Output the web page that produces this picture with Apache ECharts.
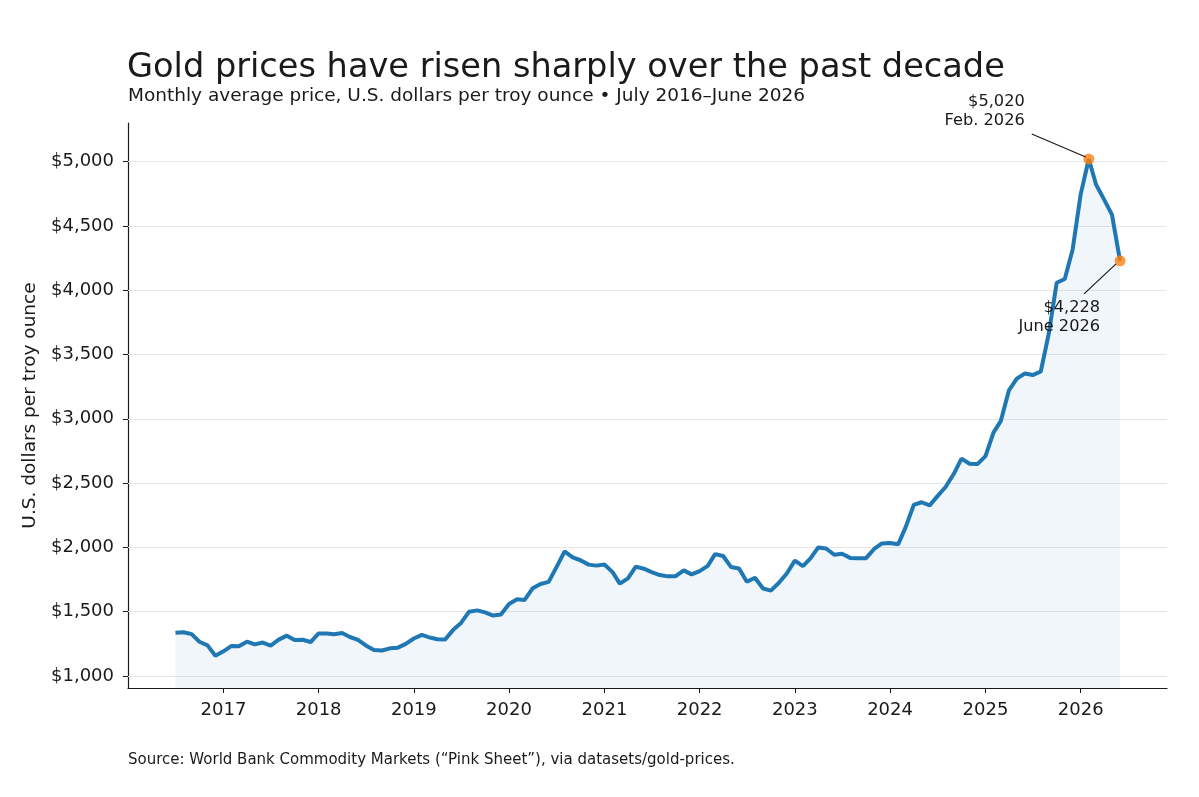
<!DOCTYPE html>
<html>
<head>
<meta charset="utf-8">
<title>Gold prices</title>
<script src="https://cdn.jsdelivr.net/npm/echarts@6.0.0/dist/echarts.min.js"></script>
<style>
  html, body { margin: 0; padding: 0; background: #fff; }
  #chart { width: 1199px; height: 797px; }
</style>
</head>
<body>
<div id="chart"></div>
<script>
  // monthly average gold price, USD per troy ounce
  const startYear = 2016;
  const startMonth = 6; // July (0-based)
  const price2016 = [1336.7, 1340.2, 1326.0, 1266.6, 1238.4, 1157.4];
  const price2017 = [1192.1, 1234.2, 1231.1, 1266.9, 1246.0, 1260.3, 1236.8, 1283.0, 1314.1, 1279.5, 1281.9, 1264.5];
  const price2018 = [1331.3, 1330.7, 1324.7, 1334.8, 1303.5, 1281.6, 1237.7, 1201.7, 1198.4, 1215.4, 1220.7, 1250.4];
  const price2019 = [1291.8, 1320.1, 1300.9, 1285.9, 1283.7, 1359.0, 1412.9, 1500.4, 1510.6, 1494.8, 1470.0, 1479.1];
  const price2020 = [1560.7, 1597.1, 1591.9, 1683.2, 1715.9, 1732.2, 1846.5, 1968.6, 1921.9, 1900.3, 1866.3, 1858.4];
  const price2021 = [1866.9, 1808.2, 1718.2, 1760.0, 1850.3, 1834.6, 1807.8, 1785.3, 1775.1, 1776.8, 1821.5, 1790.3];
  const price2022 = [1816.0, 1856.3, 1948.0, 1933.1, 1848.5, 1836.6, 1732.7, 1764.6, 1680.4, 1664.5, 1725.1, 1797.6];
  const price2023 = [1897.8, 1854.5, 1912.7, 1999.8, 1991.5, 1942.9, 1951.0, 1918.7, 1915.5, 1916.7, 1988.0, 2031.0];
  const price2024 = [2033.7, 2024.0, 2158.0, 2331.2, 2351.3, 2326.7, 2398.6, 2470.1, 2570.5, 2690.2, 2650.9, 2648.0];
  const price2025 = [2709.7, 2894.7, 2984.2, 3222.0, 3312.0, 3352.0, 3340.0, 3368.0, 3665.0, 4058.0, 4087.0, 4315.0];
  const price2026 = [4745.0, 5020.0, 4822.0, 4704.0, 4588.0, 4228.0];

  const yTicks = [1000, 1500, 2000, 2500, 3000, 3500, 4000, 4500, 5000];
  const yearTicks = [2017, 2018, 2019, 2020, 2021, 2022, 2023, 2024, 2025, 2026];

  // highlighted points: [year, month (0-based), value, label line 1, label line 2]
  const peak = [2026, 1, 5020, '$5,020', 'Feb. 2026'];
  const latest = [2026, 5, 4228, '$4,228', 'June 2026'];

  const prices = [].concat(price2016, price2017, price2018, price2019, price2020,
    price2021, price2022, price2023, price2024, price2025, price2026);
  const seriesData = prices.map((v, i) => [new Date(startYear, startMonth + i, 1).getTime(), v]);
  const yearStarts = yearTicks.map((y) => new Date(y, 0, 1).getTime());

  const font = 'DejaVu Sans, Noto Sans, sans-serif';
  const ink = '#1a1a1a';

  const chart = echarts.init(document.getElementById('chart'));

  const option = {
    backgroundColor: '#fff',
    animation: false,
    textStyle: { fontFamily: font },
    title: [
      {
        text: 'Gold prices have risen sharply over the past decade',
        left: 127, top: 51, padding: 0,
        textStyle: { fontSize: 33.6, fontWeight: 'normal', color: ink, fontFamily: font },
      },
      {
        text: 'Monthly average price, U.S. dollars per troy ounce \u2022 July 2016\u2013June 2026',
        left: 128, top: 87, padding: 0,
        textStyle: { fontSize: 18.5, fontWeight: 'normal', color: ink, fontFamily: font },
      },
      {
        text: 'Source: World Bank Commodity Markets (\u201cPink Sheet\u201d), via datasets/gold-prices.',
        left: 128, top: 753, padding: 0,
        textStyle: { fontSize: 15, fontWeight: 'normal', color: ink, fontFamily: font },
      },
    ],
    grid: { left: 128, right: 32, top: 123, bottom: 109, outerBoundsMode: 'none' },
    xAxis: {
      type: 'value',
      min: new Date(2016, 0, 1).getTime(),
      max: new Date(2026, 10, 28).getTime(),
      axisLine: { show: true, lineStyle: { color: ink, width: 1.2 } },
      axisTick: { show: true, length: 5, lineStyle: { color: ink }, customValues: yearStarts },
      axisLabel: {
        color: ink, fontSize: 18, margin: 13,
        customValues: yearStarts,
        formatter: (val) => String(new Date(val).getFullYear()),
      },
      splitLine: { show: false },
    },
    yAxis: {
      type: 'value',
      min: 907,
      max: 5300,
      name: 'U.S. dollars per troy ounce',
      nameLocation: 'middle',
      nameGap: 87,
      nameRotate: 90,
      nameTextStyle: { fontSize: 18.5, color: ink, fontFamily: font },
      axisLine: { show: true, lineStyle: { color: ink, width: 1.2 } },
      axisTick: { show: true, length: 5, lineStyle: { color: ink }, customValues: yTicks },
      axisLabel: {
        color: ink, fontSize: 18, margin: 14,
        customValues: yTicks,
        formatter: (v) => '$' + Number(v).toLocaleString('en-US'),
      },
      splitLine: { show: false },
    },
    series: [
      {
        name: 'Gold',
        type: 'line',
        data: seriesData,
        showSymbol: false,
        lineStyle: { color: '#1f77b4', width: 4 },
        areaStyle: { color: 'rgba(31,119,180,0.09)', origin: 'start' },
        markLine: {
          silent: true,
          symbol: 'none',
          label: { show: false },
          lineStyle: { color: '#e6e6e6', width: 1, type: 'solid' },
          data: yTicks.map((v) => ({ yAxis: v })),
          z: 1,
        },
        z: 3,
      },
      {
        name: 'Highlights',
        type: 'scatter',
        symbolSize: 11,
        itemStyle: { color: '#ff7f0e' },
        data: [peak, latest].map((p) => [new Date(p[0], p[1], 1).getTime(), p[2]]),
        z: 5,
      },
    ],
  };

  chart.setOption(option);

  // annotation text and leader lines placed relative to the highlighted points
  function annotate() {
    const pk = chart.convertToPixel({ gridIndex: 0 }, [new Date(peak[0], peak[1], 1).getTime(), peak[2]]);
    const lt = chart.convertToPixel({ gridIndex: 0 }, [new Date(latest[0], latest[1], 1).getTime(), latest[2]]);
    const txt = { fontSize: 16.2, fill: ink, fontFamily: font, align: 'right', lineHeight: 18.5 };
    chart.setOption({
      graphic: [
        { type: 'line', shape: { x1: pk[0] - 57, y1: pk[1] - 25, x2: pk[0] - 3, y2: pk[1] - 2 },
          style: { stroke: ink, lineWidth: 1.2 }, z: 10 },
        { type: 'text', x: pk[0] - 64, y: pk[1] - 66,
          style: Object.assign({ text: peak[3] + '\n' + peak[4], verticalAlign: 'top' }, txt), z: 10 },
        { type: 'line', shape: { x1: lt[0] - 36, y1: lt[1] + 33, x2: lt[0] - 4, y2: lt[1] + 3 },
          style: { stroke: ink, lineWidth: 1.2 }, z: 10 },
        { type: 'text', x: lt[0] - 20, y: lt[1] + 38,
          style: Object.assign({ text: latest[3] + '\n' + latest[4], verticalAlign: 'top' }, txt), z: 10 },
      ],
    });
  }
  annotate();
</script>
</body>
</html>
